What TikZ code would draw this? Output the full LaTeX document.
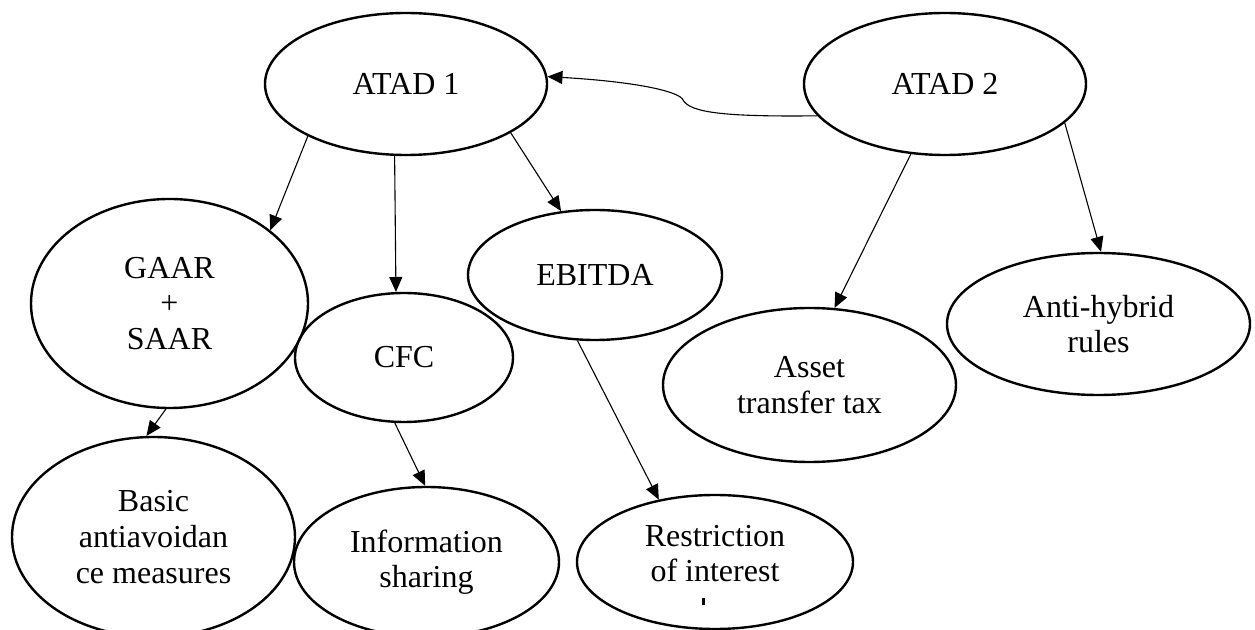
\documentclass[tikz,border=0pt]{standalone}
\usepackage{fontspec}
\setmainfont{Liberation Serif}
\usetikzlibrary{shapes.geometric,arrows.meta}
\begin{document}
\begin{tikzpicture}[x=0.5pt,y=-0.5pt,
  bubble/.style={ellipse,draw,line width=1.2pt,inner sep=0pt,align=center,
    font=\fontsize{16}{17.8}\selectfont},
  lbl/.style={inner sep=0pt,align=center,font=\fontsize{16}{17.8}\selectfont},
  link/.style={line width=0.55pt,-{Triangle[length=7.5pt,width=6.5pt]}}]
\useasboundingbox (0,0) rectangle (1255,630);
\clip (0,0) rectangle (1255,630);

% directives
\node[bubble,minimum width=141pt,minimum height=71pt] (atad1) at (406,84) {ATAD 1};
\node[bubble,minimum width=141pt,minimum height=71pt] (atad2) at (945,84) {ATAD 2};

% measures
\node[bubble,minimum width=138.5pt,minimum height=104.5pt] (gaar) at (169.5,303.5) {GAAR\\+\\SAAR};
\node[bubble,minimum width=109pt,minimum height=64.5pt] (cfc) at (404,357.5) {CFC};
\node[bubble,minimum width=127pt,minimum height=65pt] (ebitda) at (595,275) {EBITDA};
\node[bubble,minimum width=146.5pt,minimum height=77pt] (asset) at (809.5,385) {Asset\\transfer tax};
\node[bubble,minimum width=151.5pt,minimum height=71pt] (anti) at (1098.5,324) {Anti-hybrid\\rules};

% outcomes
\node[bubble,minimum width=141.5pt,minimum height=100pt] (basic) at (153.5,537) {Basic\\antiavoidan\\ce measures};
\node[bubble,minimum width=132.5pt,minimum height=75pt] (info) at (426.5,562) {Information\\sharing};
\node[bubble,minimum width=138pt,minimum height=67pt] (restr) at (715,562) {};
\node[lbl] (restrtext) at (715,553.5) {Restriction\\of interest};
\fill (702,598) rectangle (704.5,605);

% connectors
\draw[link] (atad1.208) -- (gaar.36);
\draw[link] (atad1.261) -- (cfc.97);
\draw[link] (atad1.335) -- (ebitda.118);
\draw[link] (atad2.244) -- (asset.72);
\draw[link] (atad2.342) -- (anti.88);
\draw[link] (gaar.268) -- (basic.94);
\draw[link] (cfc.262) -- (info.91);
\draw[link] (ebitda.255) -- (restr.132);
\coordinate (kink) at (683,100);
\draw[link] (atad2.194) .. controls (720,117) and (690,112) .. (kink)
  .. controls (680,92) and (640,82) .. (atad1.3);
\end{tikzpicture}
\end{document}
